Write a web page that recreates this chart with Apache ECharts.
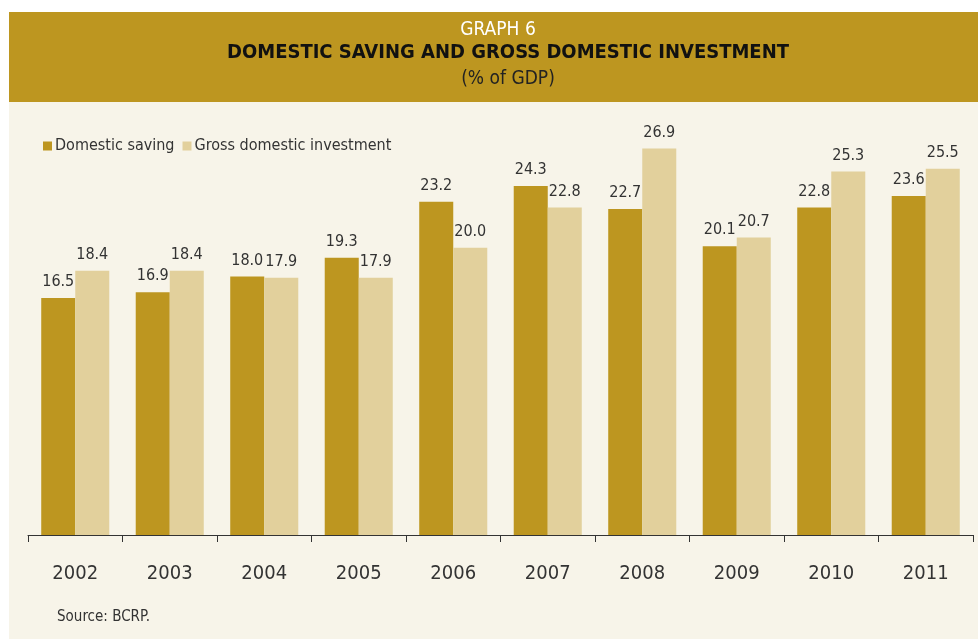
<!DOCTYPE html>
<html>
<head>
<meta charset="utf-8">
<title>Domestic saving and gross domestic investment</title>
<script src="https://cdn.jsdelivr.net/npm/echarts@6/dist/echarts.min.js"></script>
<style>
  html, body { margin: 0; padding: 0; background: #ffffff; }
  #chart { width: 978px; height: 639px; }
</style>
</head>
<body>
<div id="chart"></div>
<script>
// Years shown along the category axis
const years = ['2002', '2003', '2004', '2005', '2006', '2007', '2008', '2009', '2010', '2011'];
// Domestic saving, % of GDP
const domesticSaving = [16.5, 16.9, 18.0, 19.3, 23.2, 24.3, 22.7, 20.1, 22.8, 23.6];
// Gross domestic investment, % of GDP
const grossInvestment = [18.4, 18.4, 17.9, 17.9, 20.0, 22.8, 26.9, 20.7, 25.3, 25.5];

const GOLD = '#BD9620';
const SAND = '#E2D09C';
const CREAM = '#F7F4E9';
const INK = '#333333';
const FONT = '"Liberation Sans Narrow", "DejaVu Sans Condensed", "Open Sans", sans-serif';

const chart = echarts.init(document.getElementById('chart'), null, { renderer: 'canvas' });

const valueLabel = {
  show: true,
  position: 'top',
  distance: 8,
  fontFamily: FONT,
  fontSize: 16,
  color: INK,
  formatter: p => p.value.toFixed(1)
};

chart.setOption({
  backgroundColor: '#ffffff',
  animation: false,
  graphic: [
    { type: 'rect', left: 9, top: 102, z: -10, shape: { width: 969, height: 537 }, style: { fill: CREAM } },
    { type: 'rect', left: 9, top: 12, z: -10, shape: { width: 969, height: 90 }, style: { fill: GOLD } },
    { type: 'text', left: 57, top: 610, style: { text: 'Source: BCRP.', font: '15px ' + FONT, fill: INK } }
  ],
  title: [
    { text: 'GRAPH 6', left: 493, top: 16, textAlign: 'center',
      textStyle: { fontFamily: FONT, fontWeight: 'normal', fontSize: 19, color: '#ffffff' } },
    { text: 'DOMESTIC SAVING AND GROSS DOMESTIC INVESTMENT', left: 503, top: 38, textAlign: 'center',
      textStyle: { fontFamily: FONT, fontWeight: 'bold', fontSize: 20, color: '#111111' } },
    { text: '(% of GDP)', left: 503, top: 65, textAlign: 'center',
      textStyle: { fontFamily: FONT, fontWeight: 'normal', fontSize: 19, color: '#222222' } }
  ],
  legend: {
    left: 38,
    top: 133,
    icon: 'rect',
    itemWidth: 9,
    itemHeight: 9,
    itemGap: 8,
    textStyle: { fontFamily: FONT, fontSize: 16, color: INK, padding: [0, 0, 0, -2] },
    data: ['Domestic saving', 'Gross domestic investment']
  },
  grid: { left: 28, right: 5, top: 104, bottom: 104, containLabel: false },
  xAxis: {
    type: 'category',
    data: years,
    axisLine: { lineStyle: { color: INK, width: 1 } },
    axisTick: { show: true, length: 7, lineStyle: { color: INK } },
    axisLabel: { fontFamily: FONT, fontSize: 20, color: INK, margin: 29 }
  },
  yAxis: {
    type: 'value',
    min: 0,
    max: 30,
    show: false,
    splitLine: { show: false }
  },
  series: [
    {
      name: 'Domestic saving',
      type: 'bar',
      data: domesticSaving,
      itemStyle: { color: GOLD },
      barGap: '0%',
      barCategoryGap: '28%',
      label: valueLabel
    },
    {
      name: 'Gross domestic investment',
      type: 'bar',
      data: grossInvestment,
      itemStyle: { color: SAND },
      label: valueLabel
    }
  ]
});
</script>
</body>
</html>
